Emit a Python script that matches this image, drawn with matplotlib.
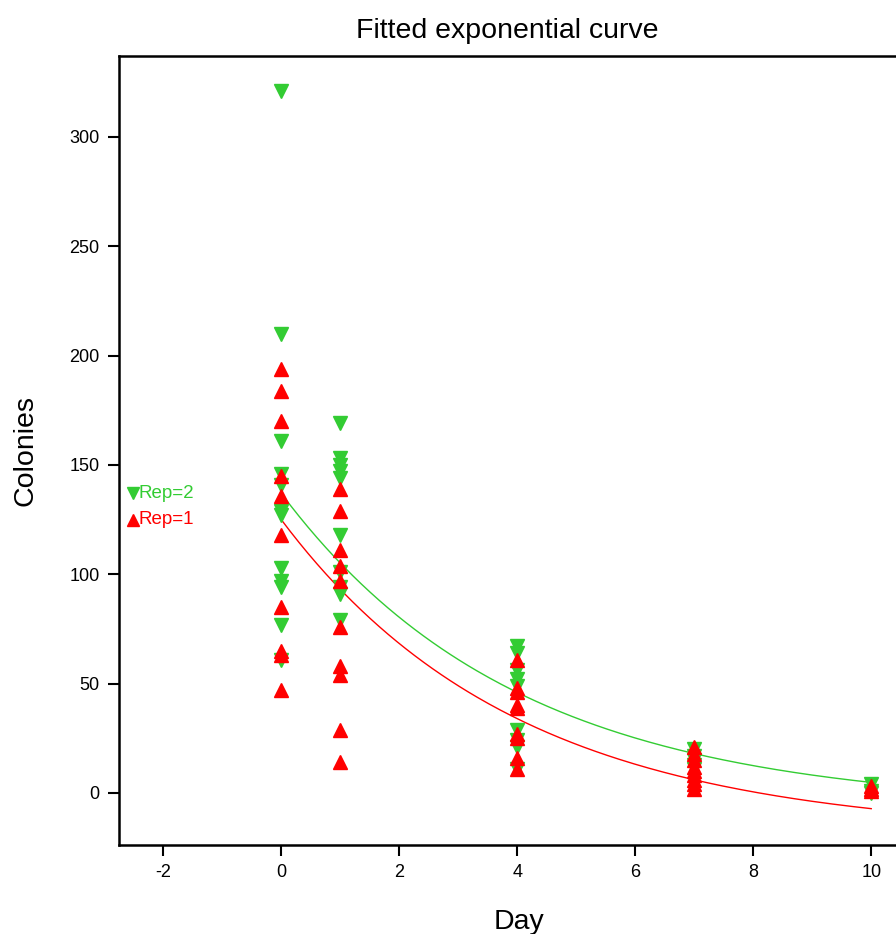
import numpy as np
import matplotlib.pyplot as plt

plt.rcParams['font.family'] = ['Liberation Sans', 'DejaVu Sans']
plt.rcParams['axes.unicode_minus'] = False

# Colony counts per day
days = [0, 1, 4, 7, 10]
rep2 = {
    0: [321, 210, 161, 146, 141, 129, 127, 103, 97, 94, 77, 61],
    1: [169, 153, 150, 147, 144, 118, 101, 94, 91, 79],
    4: [67, 64, 56, 52, 49, 29, 24, 21, 11],
    7: [20, 17, 15, 13, 11],
    10: [4, 1, 0],
}
rep1 = {
    0: [194, 184, 170, 145, 136, 118, 85, 65, 63, 47],
    1: [139, 129, 111, 104, 97, 76, 58, 54, 29, 14],
    4: [61, 48, 46, 40, 39, 27, 25, 16, 11],
    7: [21, 18, 15, 12, 10, 8, 6, 4, 2],
    10: [3, 2, 1],
}

# fitted curve y = a + b*exp(-k*day)
fit_b = 144
fit_k = 0.25
fit_a = {'Rep=2': -7, 'Rep=1': -19}

green = '#33cc33'
red = '#ff0000'

fig = plt.figure(figsize=(8.96, 9.34), dpi=100)
ax = fig.add_axes([119 / 896, 89 / 934, 800 / 896, 789 / 934])

xx = np.linspace(0, 10, 200)
for name, col in [('Rep=2', green), ('Rep=1', red)]:
    ax.plot(xx, fit_a[name] + fit_b * np.exp(-fit_k * xx), color=col, lw=1, zorder=2)

for d in days:
    ax.plot([d] * len(rep2[d]), rep2[d], 'v', color=green, ms=10, mec=green, zorder=3)
for d in days:
    ax.plot([d] * len(rep1[d]), rep1[d], '^', color=red, ms=10, mec=red, zorder=4)

# curve labels at the left of the plot
for name, col, mk in [('Rep=2', green, 'v'), ('Rep=1', red, '^')]:
    y0 = fit_a[name] + fit_b
    ax.plot([-2.52], [y0], mk, color=col, ms=9, mec=col)
    ax.text(-2.42, y0, name, color=col, fontsize=13.5, va='center', ha='left')

ax.set_xlim(-2.75, 10.81)
ax.set_ylim(-23.8, 337)
ax.set_xticks(range(-2, 11, 2))
ax.set_yticks(range(0, 301, 50))
ax.tick_params(direction='out', length=8, width=1.5, labelsize=13, pad=6)
for s in ax.spines.values():
    s.set_linewidth(1.8)

ax.set_xlabel('Day', fontsize=20.5, labelpad=20)
ax.set_ylabel('Colonies', fontsize=20.5, labelpad=22)
ax.set_title('Fitted exponential curve', fontsize=20.5, pad=13, x=0.485)

fig.savefig('out.png', dpi=100)
